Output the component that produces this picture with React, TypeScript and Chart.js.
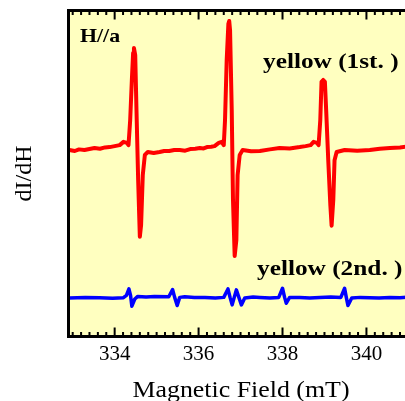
import React, { useEffect, useRef } from "react";
import { Chart, registerables } from "chart.js";

Chart.register(...registerables);

// Magnetic field (mT) and derivative signal (arbitrary units) for the 1st sample
const redField = [
  332.92, 333.05, 333.15, 333.28, 333.4, 333.52, 333.65, 333.77, 333.88, 334.0, 334.12, 334.21, 334.29, 334.33, 334.37,
  334.41, 334.44, 334.46, 334.49, 334.52, 334.56, 334.6, 334.63, 334.67, 334.72,
  334.79, 334.93, 335.07, 335.18, 335.3, 335.42, 335.55, 335.68, 335.8, 335.92, 336.03, 336.12, 336.2, 336.3, 336.38, 336.48, 336.55,
  336.6, 336.63, 336.67, 336.71, 336.73, 336.75, 336.79, 336.82, 336.86, 336.9,
  336.93, 336.98, 337.05, 337.25, 337.46, 337.7, 337.93, 338.17, 338.41, 338.55, 338.67, 338.74, 338.82, 338.86,
  338.9, 338.93, 338.97, 339.01, 339.04, 339.09, 339.14, 339.17, 339.21, 339.24,
  339.29, 339.48, 339.78, 340.08, 340.32, 340.56, 340.8, 341.03,
];
const redSignal = [
  57.2, 56.9, 57.4, 57.2, 57.5, 57.8, 57.6, 58.0, 58.1, 58.4, 58.7, 59.7, 59.4, 58.7, 66.4,
  78.7, 87.0, 88.5, 86.3, 69.5, 48.0, 30.6, 34.2, 49.5, 55.7,
  56.6, 56.3, 56.6, 56.9, 56.9, 57.2, 57.2, 57.0, 57.5, 57.6, 57.8, 57.7, 58.1, 58.2, 58.4, 59.4, 59.7,
  58.7, 66.4, 84.8, 95.9, 96.8, 94.0, 69.5, 41.9, 24.7, 29.6,
  49.5, 55.7, 57.2, 56.8, 56.9, 57.4, 57.8, 57.7, 58.1, 58.4, 58.7, 59.7, 59.4, 58.7,
  66.4, 78.1, 78.7, 78.1, 69.5, 54.1, 40.3, 34.0, 41.9, 54.1,
  56.6, 57.2, 57.0, 57.2, 57.6, 57.8, 58.0, 58.4,
];

// Magnetic field (mT) and derivative signal (arbitrary units) for the 2nd sample
const blueField = [
  332.92, 333.3, 333.64, 333.95, 334.21, 334.28, 334.34, 334.38, 334.41, 334.48, 334.55, 334.75, 334.95,
  335.29, 335.38, 335.43, 335.49, 335.55, 335.67, 335.9, 336.15, 336.4, 336.6, 336.7, 336.75,
  336.8, 336.85, 336.9, 336.96, 337.02, 337.1, 337.3, 337.46, 337.7, 337.91, 338.0, 338.05,
  338.09, 338.17, 338.41, 338.65, 338.89, 339.15, 339.39, 339.48, 339.52, 339.56, 339.65, 339.85, 340.08,
  340.3, 340.56, 340.8, 341.03,
];
const blueSignal = [
  11.8, 12.0, 11.9, 11.7, 11.9, 12.6, 14.6, 12.5, 9.3, 11.5, 12.3, 12.1, 12.3,
  12.2, 14.4, 12.0, 9.5, 12.0, 12.2, 12.0, 12.0, 11.8, 12.0, 14.6, 12.0,
  9.7, 12.0, 14.3, 12.0, 9.7, 11.8, 12.1, 12.0, 11.8, 12.0, 14.8, 12.0,
  10.2, 12.0, 12.0, 11.8, 12.0, 12.1, 12.0, 14.8, 12.0, 9.5, 11.8, 12.0, 11.9,
  11.8, 12.0, 11.9, 12.1,
];

const xTickValues = [334, 336, 338, 340];
const xMin = 332.9;
const xMax = 341.05;
const yMin = 0;
const yMax = 100;

const labelFirst = "yellow (1st. )";
const labelSecond = "yellow (2nd. )";
const orientationLabel = "H//a";
const xTitle = "Magnetic Field (mT)";
const yTitle = "dI/dH";

const SERIF = "'Liberation Serif', 'Times New Roman', serif";

function stretchedText(ctx: CanvasRenderingContext2D, text: string, x: number, y: number, font: string, align: CanvasTextAlign) {
  ctx.save();
  ctx.font = font;
  ctx.fillStyle = "#000";
  ctx.textAlign = align;
  ctx.textBaseline = "alphabetic";
  ctx.translate(x, y);
  ctx.scale(1.15, 1);
  ctx.fillText(text, 0, 0);
  ctx.restore();
}

const framePlugin = {
  id: "framePlugin",
  beforeDatasetsDraw(chart: any) {
    const { ctx, chartArea } = chart;
    ctx.save();
    ctx.fillStyle = "#FFFFC0";
    ctx.fillRect(chartArea.left, chartArea.top, chartArea.right - chartArea.left, chartArea.bottom - chartArea.top);
    ctx.restore();
  },
  afterDraw(chart: any) {
    const { ctx, chartArea } = chart;
    const xs = chart.scales.x;
    ctx.save();
    ctx.strokeStyle = "#000";
    ctx.lineWidth = 2;
    for (let i = 0; i <= 45; i++) {
      const v = 333 + i * 0.2;
      if (v > xMax) break;
      const px = xs.getPixelForValue(v);
      const isMajor = xTickValues.some((t) => Math.abs(t - v) < 1e-6);
      const len = isMajor ? 9 : 4.5;
      ctx.beginPath();
      ctx.moveTo(px, chartArea.top);
      ctx.lineTo(px, chartArea.top + len);
      ctx.moveTo(px, chartArea.bottom);
      ctx.lineTo(px, chartArea.bottom - len);
      ctx.stroke();
    }
    ctx.lineWidth = 3;
    ctx.strokeRect(chartArea.left, chartArea.top, chartArea.right - chartArea.left, chartArea.bottom - chartArea.top);
    ctx.restore();

    stretchedText(ctx, orientationLabel, 80, 42, `bold 19px ${SERIF}`, "left");
    stretchedText(ctx, labelFirst, 263, 68, `bold 22px ${SERIF}`, "left");
    stretchedText(ctx, labelSecond, 257, 275, `bold 22px ${SERIF}`, "left");
    stretchedText(ctx, xTitle, 241, 397, `22.5px ${SERIF}`, "center");
  },
};

export default function App() {
  const canvasRef = useRef<HTMLCanvasElement | null>(null);

  useEffect(() => {
    const canvas = canvasRef.current;
    if (!canvas) return;
    const chart = new Chart(canvas, {
      type: "line",
      data: {
        datasets: [
          {
            label: labelFirst,
            data: redField.map((x, i) => ({ x, y: redSignal[i] })),
            borderColor: "#FF0000",
            borderWidth: 4,
            borderJoinStyle: "round",
            borderCapStyle: "round",
            pointRadius: 0,
            tension: 0,
            fill: false,
          },
          {
            label: labelSecond,
            data: blueField.map((x, i) => ({ x, y: blueSignal[i] })),
            borderColor: "#0000FF",
            borderWidth: 3.5,
            borderJoinStyle: "round",
            borderCapStyle: "round",
            pointRadius: 0,
            tension: 0,
            fill: false,
          },
        ],
      },
      options: {
        responsive: false,
        animation: false,
        layout: { padding: { top: 10.5, left: 0, right: 1.5, bottom: 0 } },
        plugins: {
          legend: { display: false },
          tooltip: { enabled: false },
        },
        scales: {
          x: {
            type: "linear",
            min: xMin,
            max: xMax,
            grid: { display: false, drawTicks: false },
            border: { display: false },
            afterBuildTicks: (scale: any) => {
              scale.ticks = xTickValues.map((v) => ({ value: v }));
            },
            afterFit: (scale: any) => {
              scale.height = 64.5;
            },
            ticks: {
              padding: 5,
              color: "#000",
              font: { family: SERIF, size: 21 },
              maxRotation: 0,
              autoSkip: false,
              callback: (v: any) => String(v),
            },
            title: { display: false },
          },
          y: {
            type: "linear",
            min: yMin,
            max: yMax,
            grid: { display: false, drawTicks: false },
            border: { display: false },
            ticks: { display: false },
            afterFit: (scale: any) => {
              scale.width = 68.5;
            },
            title: {
              display: true,
              text: yTitle,
              color: "#000",
              font: { family: SERIF, size: 24 },
              padding: { top: 10, bottom: 0 },
            },
          },
        },
      },
      plugins: [framePlugin],
    });
    return () => chart.destroy();
  }, []);

  return (
    <div style={{ position: "fixed", left: 0, top: 0, width: 405, height: 401, overflow: "hidden", background: "#fff" }}>
      <canvas ref={canvasRef} width={412} height={401} style={{ display: "block" }} />
    </div>
  );
}
